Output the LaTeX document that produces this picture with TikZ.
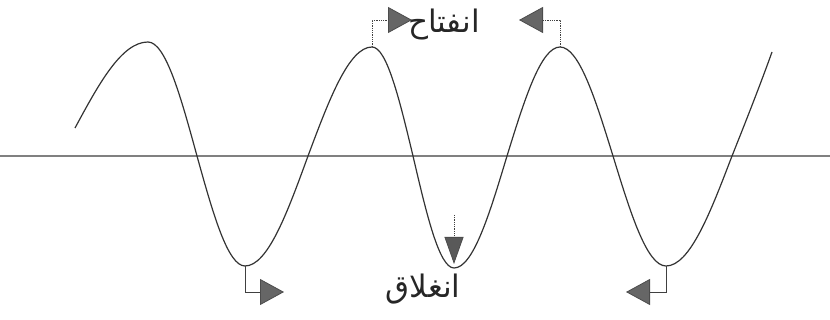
\documentclass[tikz,border=0pt]{standalone}
\usepackage{fontspec}
\newfontfamily\arabicfont[Script=Arabic]{DejaVu Sans}
\TeXXeTstate=1
\usetikzlibrary{arrows.meta}
\tikzset{
  wave/.style={line width=1.2pt, draw=black!80, line join=round},
  axisline/.style={line width=1.1pt, draw=black!50},
  lead/.style={line width=0.8pt, draw=black!75, -{Triangle[length=24pt,width=26pt,fill=black!60,color=black!70]}},
  leaddot/.style={lead, densely dotted},
  downhead/.style={line width=0.8pt, draw=black!75, densely dotted, -{Triangle[length=27pt,width=19pt,fill=black!65,color=black!70]}},
  lbl/.style={font=\arabicfont\fontsize{31}{36}\selectfont, inner sep=0pt, text=black!85, anchor=base}
}
\begin{document}
\begin{tikzpicture}[x=1pt,y=-1pt]
\useasboundingbox (0,0) rectangle (830,320);
% axis
\coordinate (axL) at (0,156);
\coordinate (axR) at (830,156);
\draw[axisline] (axL) -- (axR);
% key points of the wave
\coordinate (s0) at (75,128);
\coordinate (p1) at (148,42);
\coordinate (c1) at (197,156);
\coordinate (t1) at (245,266);
\coordinate (c2) at (308,156);
\coordinate (p2) at (372,47);
\coordinate (c3) at (413,156);
\coordinate (t2) at (454,268);
\coordinate (c4) at (507,156);
\coordinate (p3) at (560,47);
\coordinate (c5) at (613,156);
\coordinate (t3) at (666,266);
\coordinate (c6) at (732,156);
\coordinate (e0) at (772,52);
\draw[wave] (s0) sin (p1) cos (c1) sin (t1) cos (c2) sin (p2) cos (c3) sin (t2) cos (c4) sin (p3) cos (c5) sin (t3) cos (c6) .. controls (748,116) and (762,80) .. (e0);
% labels
\node[lbl] (open) at (444,33) {\beginR انفتاح\endR};
\node[lbl] (close) at (423,298) {\beginR انغلاق\endR};
% leaders
\coordinate (a1) at (412,20);
\coordinate (a2) at (519,20);
\coordinate (a3) at (284,292);
\coordinate (a4) at (626,292);
\coordinate (d0) at (454,215);
\coordinate (d1) at (454,264);
\draw[leaddot] (p2) |- (a1);
\draw[leaddot] (p3) |- (a2);
\draw[lead] (t1) |- (a3);
\draw[lead] (t3) |- (a4);
\draw[downhead] (d0) -- (d1);
\end{tikzpicture}
\end{document}
